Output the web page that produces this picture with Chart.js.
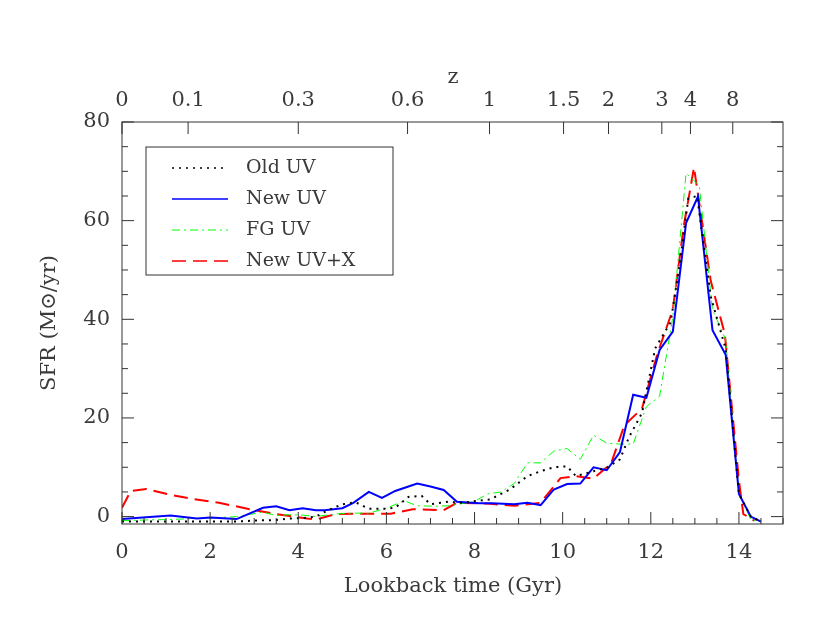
<!DOCTYPE html>
<html><head><meta charset="utf-8">
<script src="https://cdn.jsdelivr.net/npm/chart.js@4/dist/chart.umd.min.js"></script>
<style>html,body{margin:0;padding:0;background:#fff}#c{display:block}</style>
</head><body>
<div style="width:830px;height:623px"><canvas id="c"></canvas></div>
<script>
const seriesNames = ['Old UV','New UV','FG UV','New UV+X'];
const oldUV_t = [0,1,2,2.6,3.0,3.5,3.8,4.1,4.4,4.7,5.0,5.3,5.6,6.0,6.2,6.5,6.8,7.0,7.4,7.7,8.36,8.8,9.2,9.5,9.8,10.1,10.3,10.7,11.0,11.3,11.5,11.8,12.1,12.45,12.65,12.85,13.05,13.36,13.7,14.0,14.27,14.5];
const oldUV_v = [-1,-1,-1,-1,-0.8,-0.7,-0.4,-0.3,0,1.4,2.5,2.9,1.6,1.6,1.8,4.0,4.2,2.5,3.0,2.8,3.5,5.5,8.2,9.2,10.0,10.2,8.2,9.2,9.9,11.6,16,21,34.1,39.4,50.8,64.5,65,44.6,34,4.6,0,-1];
const newUV_t = [0,1.1,1.7,2.0,2.6,3.2,3.5,3.8,4.1,4.4,4.6,5.0,5.25,5.6,5.9,6.2,6.5,6.7,7.0,7.3,7.6,8.1,8.4,8.9,9.2,9.5,9.8,10.1,10.4,10.7,11.0,11.3,11.6,11.9,12.2,12.5,12.8,13.07,13.4,13.7,14.0,14.27,14.5];
const newUV_v = [-0.5,0.2,-0.4,-0.2,-0.5,1.8,2.1,1.3,1.7,1.3,1.3,1.7,2.8,5.0,3.8,5.2,6.1,6.7,6.1,5.4,3.0,2.7,2.7,2.5,2.8,2.3,5.5,6.6,6.7,10.0,9.4,13.1,24.7,24.1,33.8,37.5,59.5,64.9,37.8,32.8,4.6,0,-1];
const fgUV_t = [0,1,2,2.6,3.2,3.5,3.8,4.1,4.4,4.8,5.2,5.6,6.0,6.4,6.7,7.1,7.4,7.98,8.3,8.6,8.9,9.2,9.5,9.8,10.1,10.4,10.7,11.0,11.3,11.6,11.9,12.2,12.5,12.8,13.1,13.4,13.7,14.0,14.27,14.5];
const fgUV_v = [-0.8,-0.6,-0.3,0,0.9,0.2,0.4,0.3,0,0.5,0.7,0.7,1.7,3.2,2.2,2.1,2.2,3.0,4.6,5.0,6.7,10.9,10.9,13.3,13.8,11.6,16.5,14.9,14.7,14.7,22.3,24.4,40.5,69.6,67.1,41.9,35.9,4.6,-0.6,-1];
const uvx_t = [0,0.2,0.55,1.1,1.6,2.2,2.9,3.5,4.2,4.4,4.85,5.5,6.1,6.6,7.3,7.6,8.36,8.9,9.5,9.95,10.3,10.7,11.1,11.4,11.8,12.15,12.5,12.75,12.98,13.36,13.68,14.0,14.1,14.35];
const uvx_v = [1.8,5.2,5.6,4.4,3.6,2.8,1.5,0.5,-0.4,-0.6,0.5,0.6,0.6,1.5,1.3,2.8,2.6,2.2,2.8,7.8,8.2,7.7,10.8,18.5,21.9,33,42,59,70.8,47.8,37,7.3,0.5,-0.8];
const zLabels = ['0','0.1','0.3','0.6','1','1.5','2','3','4','8'];
const zLookback = [0,1.5,4.0,6.48,8.34,10.02,11.04,12.25,12.9,13.86];
const xTicks = [0,2,4,6,8,10,12,14];
const yTicks = [0,20,40,60,80];

const pts=(t,v)=>t.map((x,i)=>({x,y:v[i]}));
const FONT='"DejaVu Serif"';
const cols=['#000000','#0000ff','#00ff00','#ff0000'];
const dashes=[[2,5],[],[8,4,2,4],[14,7]];
const widths=[2,2,1,2];
const data=[pts(oldUV_t,oldUV_v),pts(newUV_t,newUV_v),pts(fgUV_t,fgUV_v),pts(uvx_t,uvx_v)];

const deco={id:'deco',afterDraw(ch){
 const c=ch.ctx,a=ch.chartArea,x=ch.scales.x,y=ch.scales.y;
 c.save();c.strokeStyle='#333';c.lineWidth=1;
 c.strokeRect(a.left,a.top,a.right-a.left,a.bottom-a.top);
 c.beginPath();
 for(let v=0;v<=15.001;v+=0.5){const px=x.getPixelForValue(v);const L=(Math.abs(v%2)<1e-6)?12:6;c.moveTo(px,a.bottom);c.lineTo(px,a.bottom-L);}
 for(let v=0;v<=80;v+=5){const py=y.getPixelForValue(v);const L=(v%20===0)?12:6;c.moveTo(a.left,py);c.lineTo(a.left+L,py);c.moveTo(a.right,py);c.lineTo(a.right-L,py);}
 zLookback.forEach(v=>{const px=x.getPixelForValue(v);c.moveTo(px,a.top);c.lineTo(px,a.top+12);});
 c.stroke();
 c.fillStyle='#3a3a3a';c.font='21px '+FONT;c.textAlign='center';c.textBaseline='middle';
 xTicks.forEach(v=>c.fillText(String(v),x.getPixelForValue(v),553));
 zLabels.forEach((l,i)=>c.fillText(l,x.getPixelForValue(zLookback[i]),101));
 c.fillText('z',453,78);
 c.fillText('Lookback time (Gyr)',453,587);
 c.textAlign='right';
 yTicks.forEach(v=>c.fillText(String(v),110,y.getPixelForValue(v)));
 c.save();c.translate(50,323);c.rotate(-Math.PI/2);c.textAlign='center';
 c.fillText('SFR (M\u2299/yr)',0,0);c.restore();
 c.fillStyle='#fff';c.fillRect(146,147,247,128);
 c.strokeStyle='#333';c.strokeRect(146,147,247,128);
 c.textAlign='left';c.font='19px '+FONT;
 seriesNames.forEach((n,i)=>{const yy=168+i*31;
  c.strokeStyle=cols[i];c.lineWidth=widths[i]===1?1:1.5;c.setLineDash(dashes[i]);
  c.beginPath();c.moveTo(172,yy);c.lineTo(228,yy);c.stroke();c.setLineDash([]);
  c.fillStyle='#3a3a3a';c.fillText(n,246,yy);});
 c.restore();}};

new Chart(document.getElementById('c'),{type:'line',
 data:{datasets:data.map((d,i)=>({label:seriesNames[i],data:d,borderColor:cols[i],borderDash:dashes[i],borderWidth:widths[i],pointRadius:0,tension:0,fill:false}))},
 options:{responsive:true,maintainAspectRatio:false,animation:false,
  layout:{padding:{left:0,right:47,top:0,bottom:0}},
  plugins:{legend:{display:false},tooltip:{enabled:false}},
  scales:{
   x:{type:'linear',min:0,max:15,grid:{display:false},border:{display:false},ticks:{display:false},afterFit(s){s.height=99;}},
   x2:{type:'linear',position:'top',min:0,max:15,grid:{display:false},border:{display:false},ticks:{display:false},afterFit(s){s.height=122;}},
   y:{min:-1.5,max:80,grid:{display:false},border:{display:false},ticks:{display:false},afterFit(s){s.width=122;}}
  }},
 plugins:[deco]});
</script>
</body></html>
